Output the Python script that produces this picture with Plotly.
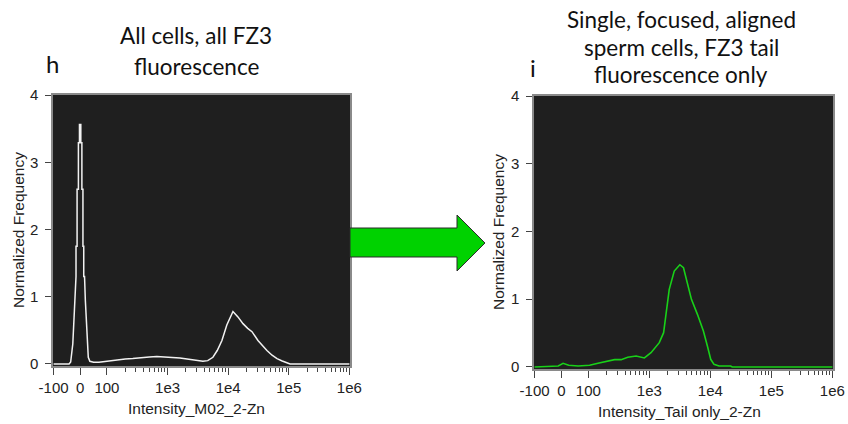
import numpy as np
import plotly.graph_objects as go

W, H = 848, 424

# ---------------- data ----------------
# panel h: all cells, all FZ3 fluorescence (intensity, normalized frequency)
h_intensity = [-100, -42, -36, -28, -22, -18, -16, -16, -12, -12, -7, -7, -3, -3, 2, 2, 6, 6,
               10, 10, 13, 13, 16, 19, 24, 30, 36, 50, 70, 90, 111, 150, 200, 267, 330, 390,
               500, 665, 900, 1200, 1600, 2100, 2620, 3200, 3830, 4600, 5600, 6600, 7890,
               9500, 12000, 14500, 17550, 21000, 24700, 31000, 37000, 43600, 53000, 64000,
               78000, 93000, 105000, 200000, 1000000]
h_freq = [0.0, 0.0, 0.03, 0.3, 0.8, 1.3, 1.3, 1.75, 1.75, 2.6, 2.6, 3.29, 3.29, 3.56, 3.56, 3.29,
          3.29, 2.6, 2.6, 1.75, 1.75, 1.3, 1.3, 0.95, 0.45, 0.1, 0.04, 0.025, 0.025, 0.035, 0.05,
          0.06, 0.075, 0.08, 0.09, 0.1, 0.105, 0.11, 0.105, 0.095, 0.09, 0.075, 0.06, 0.05, 0.04,
          0.05, 0.1, 0.2, 0.35, 0.58, 0.78, 0.7, 0.6, 0.53, 0.48, 0.35, 0.27, 0.2, 0.13, 0.08,
          0.045, 0.02, 0.0, 0.0, 0.0]

# panel i: single, focused, aligned sperm cells, tail fluorescence only
i_intensity = [-100, -12, 6, 27, 62, 105, 144, 209, 269, 345, 443, 607, 687, 830, 1065, 1456,
               1714, 1803, 2120, 2560, 3160, 3630, 4220, 4900, 6140, 7690, 8940, 10140, 11480,
               13870, 21500, 22860, 1000000]
i_freq = [0.0, 0.015, 0.054, 0.025, 0.015, 0.025, 0.054, 0.093, 0.108, 0.108, 0.143, 0.162,
          0.147, 0.133, 0.211, 0.359, 0.506, 0.654, 1.146, 1.416, 1.509, 1.465, 1.244, 0.998,
          0.777, 0.531, 0.310, 0.113, 0.039, 0.015, 0.015, 0.0, 0.0]

major_ticks = [-100, 0, 100, 1e3, 1e4, 1e5, 1e6]
major_labels = ["-100", "0", "100", "1e3", "1e4", "1e5", "1e6"]
minor_ticks = [k * 10 ** n for n in range(2, 6) for k in range(2, 10)]
y_ticks = [0, 1, 2, 3, 4]


def T(v):
    """Logicle-like display transform: linear near zero, logarithmic above 100."""
    v = np.asarray(v, dtype=float)
    return np.where(v <= 100, 0.44 * v / 100.0,
                    0.44 + np.log10(np.maximum(v, 100.0) / 100.0))


def px(x):
    return x / W


def py(y):
    return 1 - y / H


fig = go.Figure()
fig.add_trace(go.Scatter(x=T(h_intensity), y=h_freq, mode="lines",
                         line=dict(color="#f2f2f2", width=1.5), xaxis="x", yaxis="y",
                         showlegend=False, hoverinfo="skip"))
fig.add_trace(go.Scatter(x=T(i_intensity), y=i_freq, mode="lines",
                         line=dict(color="#19d119", width=1.6), xaxis="x2", yaxis="y2",
                         showlegend=False, hoverinfo="skip"))

tickfont = dict(family="Liberation Sans, Arial, sans-serif", size=15, color="#222")
xcommon = dict(range=[float(T(-100)) - 0.01, float(T(1e6)) + 0.01], tickmode="array",
               tickvals=list(T(major_ticks)), ticktext=major_labels, ticks="outside",
               ticklen=7, tickwidth=1, tickcolor="#444", showgrid=False, zeroline=False,
               showline=True, mirror=True, linecolor="#8a8a8a", linewidth=1.5,
               tickfont=tickfont, automargin=False,
               minor=dict(tickmode="array", tickvals=list(T(minor_ticks)), ticks="outside",
                          ticklen=4, tickwidth=1, tickcolor="#444", showgrid=False))
ycommon = dict(range=[-0.03, 4], tickmode="array", tickvals=y_ticks, ticks="outside",
               ticklen=6, tickwidth=1, tickcolor="#444", showgrid=False, zeroline=False,
               showline=True, mirror=True, linecolor="#8a8a8a", linewidth=1.5,
               tickfont=tickfont, ticklabelstandoff=4, automargin=False)

fig.update_layout(
    template="none",
    width=W, height=H, margin=dict(l=0, r=0, t=0, b=0, autoexpand=False),
    paper_bgcolor="white", plot_bgcolor="#1f1f1f",
    xaxis=dict(domain=[px(53), px(350)], anchor="y", **xcommon),
    yaxis=dict(domain=[py(366), py(95)], anchor="x", **ycommon),
    xaxis2=dict(domain=[px(534), px(833)], anchor="y2", **xcommon),
    yaxis2=dict(domain=[py(369), py(96)], anchor="x2", **ycommon),
)

# green arrow between panels
pts = [(350, 228), (457, 228), (457, 215), (485, 243), (457, 271), (457, 257), (350, 257)]
path = "M " + " L ".join(f"{px(x):.5f},{py(y):.5f}" for x, y in pts) + " Z"
fig.add_shape(type="path", path=path, xref="paper", yref="paper",
              fillcolor="#00d200", line=dict(color="#2b2b2b", width=1), layer="above")

title_font = dict(family="Lato, Open Sans, sans-serif", size=22.5, color="#111")
label_font = dict(family="Liberation Sans, Arial, sans-serif", size=15.5, color="#222")


def text(x, y, s, font, angle=0):
    fig.add_annotation(x=px(x), y=py(y), xref="paper", yref="paper", text=s,
                       showarrow=False, font=font, xanchor="center", yanchor="middle",
                       textangle=angle)


text(196, 36, "All cells, all FZ3", title_font)
text(196, 66, "fluorescence", title_font)
text(52, 64, "h", dict(title_font, size=24))

text(681, 20, "Single, focused, aligned", title_font)
text(681, 47, "sperm cells, FZ3 tail", title_font)
text(681, 74, "fluorescence only", title_font)
text(533, 68, "i", dict(title_font, size=24))

text(196, 408, "Intensity_M02_2-Zn", label_font)
text(679, 411, "Intensity_Tail only_2-Zn", label_font)
text(18, 230, "Normalized Frequency", label_font, angle=-90)
text(498, 232, "Normalized Frequency", label_font, angle=-90)

fig.write_html("out.html")
